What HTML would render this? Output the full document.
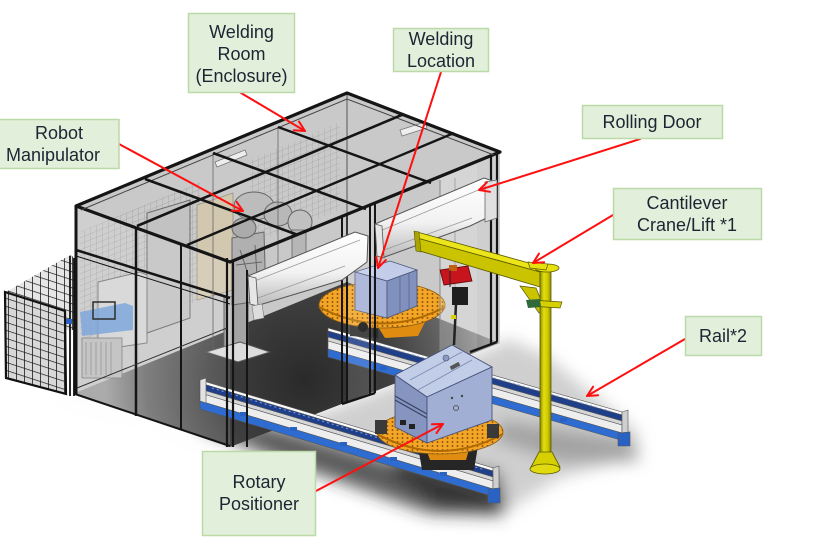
<!DOCTYPE html>
<html><head><meta charset="utf-8">
<style>
html,body{margin:0;padding:0;background:#fff;}
svg{display:block;}
.lbl{font-family:"Liberation Sans","Noto Sans CJK SC",sans-serif;font-size:18px;fill:#1c2533;text-anchor:middle;}
.box{fill:#e2efda;stroke:#bcd9a8;stroke-width:1.5;}
.arr{stroke:#ff1010;stroke-width:2;fill:none;stroke-linecap:round;stroke-linejoin:round;}
.fr{stroke:#151515;fill:none;}
</style></head><body>
<svg width="815" height="559" viewBox="0 0 815 559" xmlns="http://www.w3.org/2000/svg">
<defs>
 <filter id="b8" x="-20%" y="-20%" width="140%" height="140%"><feGaussianBlur stdDeviation="8"/></filter>
 <filter id="b5" x="-20%" y="-20%" width="140%" height="140%"><feGaussianBlur stdDeviation="5"/></filter>
 <radialGradient id="floorG" cx="305" cy="380" r="200" gradientUnits="userSpaceOnUse">
   <stop offset="0" stop-color="#2a2a2a"/><stop offset="0.45" stop-color="#404040"/><stop offset="0.8" stop-color="#6e6e6e"/><stop offset="1" stop-color="#a0a0a0"/>
 </radialGradient>
 <linearGradient id="doorG" x1="0" y1="0" x2="0" y2="1">
   <stop offset="0" stop-color="#ffffff"/><stop offset="0.55" stop-color="#f2f2f2"/><stop offset="1" stop-color="#b9b9b9"/>
 </linearGradient>
 <linearGradient id="colG" x1="0" y1="0" x2="1" y2="0">
   <stop offset="0" stop-color="#8e8c00"/><stop offset="0.35" stop-color="#e2de10"/><stop offset="0.7" stop-color="#cfca00"/><stop offset="1" stop-color="#8a8700"/>
 </linearGradient>
 <pattern id="dots" width="5" height="4" patternUnits="userSpaceOnUse"><rect width="5" height="4" fill="#f4a526"/><circle cx="2.5" cy="2" r="0.95" fill="#8a5608"/></pattern>
 <pattern id="gate" width="8" height="8" patternUnits="userSpaceOnUse" patternTransform="skewY(18)"><path d="M0 0H8M0 0V8" stroke="#1e1e1e" stroke-width="1.6" fill="none"/></pattern>
 <pattern id="meshL" width="6" height="6" patternUnits="userSpaceOnUse" patternTransform="skewY(-22)"><path d="M0 0H6M0 0V6" stroke="#8a8a8a" stroke-width="0.7" fill="none"/></pattern>
</defs>

<rect width="815" height="559" fill="#fff"/>

<!-- ground shadows -->
<g filter="url(#b8)">
  <polygon points="62,392 250,452 330,470 420,503 505,512 560,478 640,455 636,430 545,355 505,338 500,345 230,447 75,395" fill="#a8a8a8" opacity="0.55"/>
  <polygon points="200,405 495,492 505,516 430,514 300,468 200,428" fill="#2a2a2a" opacity="0.7"/>
  <polygon points="400,455 500,472 505,508 440,506 390,472" fill="#1a1a1a" opacity="0.6"/>
  <polygon points="500,420 630,440 640,462 560,462 495,440" fill="#777" opacity="0.5"/>
</g>

<!-- enclosure silhouette -->
<polygon points="76,206 347,93 500,152 500,343 230,447 75,395" fill="#c9c9c9"/>
<!-- back wall mesh -->
<polygon points="80,232 200,182 200,300 80,345" fill="url(#meshL)" opacity="0.7"/>
<polygon points="250,160 340,122 340,210 250,245" fill="url(#meshL)" opacity="0.6"/>
<!-- floor -->
<polygon points="75,393 230,447 500,343 347,282" fill="url(#floorG)"/>

<!-- interior items -->
<polygon points="147,213 190,200 190,318 147,333" fill="#c2c2c2" stroke="#6a6a6a" stroke-width="1"/>
<polygon points="98,282 140,272 147,275 147,343 98,350" fill="#d4d4d4" stroke="#777" stroke-width="1"/>
<polygon points="80,312 125,303 133,306 133,330 82,336" fill="#6f9bd6" opacity="0.85"/>
<rect x="93" y="302" width="22" height="17" fill="none" stroke="#111" stroke-width="1.5"/>
<rect x="82" y="338" width="40" height="40" fill="#bdbdbd" stroke="#777" stroke-width="0.8"/>
<path d="M86 342V375M91 342V375M96 342V375M101 342V375M106 342V375M111 342V375" stroke="#8a8a8a" stroke-width="0.8"/>
<polygon points="197,205 233,193 233,290 197,300" fill="#d2c8b0" stroke="#9a9080" stroke-width="0.8"/>
<!-- robots -->
<rect x="224" y="297" width="24" height="55" fill="#a4a4a4" stroke="#555" stroke-width="1"/>
<rect x="226" y="297" width="7" height="55" fill="#c0c0c0"/>
<polygon points="206,352 240,342 270,352 238,362" fill="#dcdcdc" stroke="#555" stroke-width="1"/>
<polygon points="232,238 264,232 266,300 232,305" fill="#b0b0b0" stroke="#666" stroke-width="1"/>
<ellipse cx="254" cy="206" rx="20" ry="14" fill="#bcbcbc" stroke="#666" stroke-width="1"/>
<ellipse cx="278" cy="214" rx="14" ry="12" fill="#b8b8b8" stroke="#666" stroke-width="1"/>
<ellipse cx="244" cy="228" rx="12" ry="10" fill="#ababab" stroke="#666" stroke-width="1"/>
<ellipse cx="300" cy="222" rx="12" ry="12" fill="#c0c0c0" stroke="#666" stroke-width="1"/>
<rect x="292" y="230" width="14" height="30" fill="#b6b6b6" stroke="#666" stroke-width="0.8"/>
<path d="M240 250L250 280M255 245L258 290M236 265L262 262" stroke="#666" stroke-width="1" fill="none"/>
<polygon points="215,162 245,150 247,155 217,167" fill="#eee" stroke="#777" stroke-width="0.8"/>
<polygon points="400,130 425,122 427,128 402,136" fill="#eee" stroke="#777" stroke-width="0.8"/>

<!-- rail 1 (back) -->
<g stroke="#555" stroke-width="0.6">
<polygon points="328,328 622,412 622,415 328,331" fill="#fafafa"/>
<polygon points="328,331 622,415 622,421 328,337" fill="#1f3f8a"/>
<polygon points="328,337 622,421 622,425 328,341" fill="#d6d6d6"/>
<polygon points="328,341 622,425 622,433 328,349" fill="#eeeeee"/>
<polygon points="328,349 622,433 624,441 328,357" fill="#2e6cd2"/>
<polygon points="622,412 628,410 628,436 622,433" fill="#cfcfcf"/>
<polygon points="618,433 630,432 630,446 618,446" fill="#2a62c4"/>
</g>
<path d="M340 334L610 411" stroke="#7fa3e6" stroke-width="1" stroke-dasharray="2,3"/>

<!-- positioner 1 -->
<polygon points="350,318 378,320 378,338 350,336" fill="#2b2b2b"/>
<polygon points="375,322 425,322 418,336 385,338" fill="#e08c10"/>
<ellipse cx="382" cy="305" rx="63" ry="23" fill="url(#dots)" stroke="#8a5a10" stroke-width="0.8"/>
<path d="M319 307Q382 340 445 307" stroke="#b06a00" stroke-width="2" fill="none"/>
<circle cx="363" cy="327" r="5" fill="#111"/>
<polygon points="355,272 390,261 417,270 387,281" fill="#c3cdea" stroke="#4a5578" stroke-width="0.8"/>
<polygon points="355,272 387,281 387,318 355,310" fill="#a4b1d6" stroke="#4a5578" stroke-width="0.8"/>
<polygon points="387,281 417,270 417,306 387,318" fill="#8191bd" stroke="#4a5578" stroke-width="0.8"/>
<path d="M400 276V313M409 273V309" stroke="#5a6690" stroke-width="0.8"/>

<!-- front glass overlay -->
<polygon points="76,206 230,260 230,447 75,395" fill="#ffffff" opacity="0.12"/>
<polygon points="347,213 373,203 373,393 347,403" fill="#ffffff" opacity="0.12"/>
<polygon points="477,160 500,152 500,343 477,352" fill="#ffffff" opacity="0.12"/>
<polygon points="440,175 477,160 477,350 440,365" fill="#ffffff" opacity="0.22"/>
<path d="M440 180V362" stroke="#888" stroke-width="1"/>
<path d="M455 178V355" stroke="#999" stroke-width="0.8"/>

<!-- rail 2 (front) -->
<g stroke="#555" stroke-width="0.6">
<polygon points="200,380 493,468 493,471 200,383" fill="#fafafa"/>
<polygon points="200,383 493,471 493,477 200,389" fill="#1f3f8a"/>
<polygon points="200,389 493,477 493,481 200,393" fill="#d6d6d6"/>
<polygon points="200,393 493,481 493,489 200,401" fill="#eeeeee"/>
<polygon points="200,401 493,489 495,497 200,409" fill="#2e6cd2"/>
<polygon points="200,380 206,378 206,403 200,401" fill="#e2e2e2"/>
<polygon points="493,468 499,466 499,492 493,489" fill="#cfcfcf"/>
<polygon points="488,489 500,488 500,503 488,503" fill="#2a62c4"/>
</g>
<path d="M212 388L485 470" stroke="#7fa3e6" stroke-width="1" stroke-dasharray="2,3"/>
<g fill="#2a62c4">
<rect x="240" y="412" width="7" height="4"/><rect x="290" y="427" width="7" height="4"/><rect x="340" y="442" width="7" height="4"/><rect x="390" y="457" width="7" height="4"/><rect x="440" y="472" width="7" height="4"/>
<rect x="380" y="366" width="7" height="4"/><rect x="430" y="380" width="7" height="4"/><rect x="560" y="418" width="7" height="4"/>
</g>

<!-- left fence -->
<polygon points="6,292 70,255 75,258 75,330 66,330 66,312 6,292" fill="#e6e6e6"/>
<polygon points="6,292 70,255 75,258 75,330 66,330 66,312 6,292" fill="url(#gate)"/>
<polygon points="5,292 65,311 66,394 6,378" fill="#d8d8d8"/>
<polygon points="5,292 65,311 66,394 6,378" fill="url(#gate)"/>
<polygon points="5,292 65,311 66,394 6,378" fill="none" stroke="#111" stroke-width="2.2"/>
<path d="M70 256V396M74 258V396" stroke="#111" stroke-width="1.8"/>
<rect x="66" y="319" width="6" height="5" fill="#2a62c4"/>

<!-- enclosure frame: posts -->
<g class="fr">
<path d="M76 206V395" stroke-width="3"/>
<path d="M136 227V416" stroke-width="2.5"/>
<path d="M181 243V429" stroke-width="2"/>
<path d="M227 258V447M233 260V447" stroke-width="2.2"/>
<path d="M247 270V447" stroke-width="2"/>
<path d="M342 215V404M347 213V402" stroke-width="2"/>
<path d="M370 205V394M375 203V393" stroke-width="2"/>
<path d="M491 155V344M497 153V342" stroke-width="2.2"/>
<path d="M76 250L230 298" stroke-width="2.5"/>
<path d="M76 256L230 304" stroke-width="1"/>
<path d="M75 394L230 446" stroke-width="2"/>
<path d="M342 404L375 393" stroke-width="2.5"/>
<path d="M470 352L497 342" stroke-width="2.5"/>
<path d="M77 388L227 328" stroke="#333" stroke-width="1"/>
<path d="M347 93V282" stroke="#555" stroke-width="1"/>
<path d="M213 153V350" stroke="#666" stroke-width="0.8"/>
<path d="M278 127V300" stroke="#666" stroke-width="0.8"/>
</g>

<!-- rolling door housings -->
<polygon points="248,276 355,232 368,236 367,262 342,280 256,306" fill="url(#doorG)" stroke="#555" stroke-width="1"/>
<path d="M252 282L360 240M258 298L345 266" stroke="#9a9a9a" stroke-width="0.8"/>
<polygon points="248,276 256,278 258,306 250,304" fill="#e6e6e6" stroke="#555" stroke-width="0.8"/>
<polygon points="252,306 262,304 264,318 254,320" fill="#ddd" stroke="#777" stroke-width="0.6"/>
<polygon points="375,224 484,178 496,182 495,214 470,226 382,258" fill="url(#doorG)" stroke="#555" stroke-width="1"/>
<path d="M380 231L488 186M384 250L472 218" stroke="#9a9a9a" stroke-width="0.8"/>
<polygon points="375,224 382,226 384,258 377,256" fill="#e6e6e6" stroke="#555" stroke-width="0.8"/>
<polygon points="485,182 497,180 497,218 485,222" fill="#e0e0e0" stroke="#666" stroke-width="0.8"/>

<!-- roof frame -->
<g class="fr">
<polygon points="76,206 347,93 500,152 230,262" stroke-width="3.2" stroke-linejoin="round"/>
<path d="M81 210L347 99L494 155" stroke="#444" stroke-width="1"/>
<path d="M145,179 L298,235" stroke-width="2.6"/>
<path d="M213,153 L366,209" stroke-width="2.6"/>
<path d="M278,127 L431,183" stroke-width="2.4"/>
<path d="M137,226 L404,114" stroke-width="2.6"/>
<path d="M187,245 L454,133" stroke-width="2.4"/>
</g>

<!-- positioner 2 -->
<polygon points="418,446 478,446 474,470 422,470" fill="#262626"/>
<polygon points="425,446 470,446 466,460 430,460" fill="#e08c10"/>
<ellipse cx="440" cy="432" rx="63" ry="22" fill="url(#dots)" stroke="#8a5a10" stroke-width="0.8"/>
<path d="M377 434Q440 468 503 434" stroke="#b06a00" stroke-width="2" fill="none"/>
<rect x="375" y="420" width="12" height="14" fill="#3a3a3a"/>
<rect x="487" y="424" width="12" height="14" fill="#3a3a3a"/>
<polygon points="395,375 452,345 492,367 427,397" fill="#c2cde8" stroke="#46527a" stroke-width="0.9"/>
<path d="M410 380L462 352M418 390L472 360" stroke="#7f8cb4" stroke-width="0.9"/>
<circle cx="446" cy="358" r="3" fill="#8e9ac0" stroke="#46527a" stroke-width="0.6"/>
<rect x="450" y="364" width="10" height="4" fill="#555" transform="rotate(-28 455 366)"/>
<polygon points="395,375 427,397 427,443 395,427" fill="#8595c0" stroke="#46527a" stroke-width="0.9"/>
<path d="M395 396L427 414M395 400L427 418" stroke="#3a4060" stroke-width="1.2"/>
<rect x="400" y="420" width="6" height="5" fill="#222"/><rect x="409" y="424" width="6" height="5" fill="#222"/>
<polygon points="427,397 492,367 492,420 427,443" fill="#a2afd5" stroke="#46527a" stroke-width="0.9"/>
<circle cx="456" cy="408" r="2.5" fill="none" stroke="#444" stroke-width="0.8"/>
<circle cx="452" cy="398" r="1.2" fill="#444"/><circle cx="462" cy="396" r="1.2" fill="#444"/>

<!-- hoist -->
<path d="M456 304L454 345" stroke="#222" stroke-width="2.5"/>
<rect x="451" y="315" width="5" height="4" fill="#d8d000"/>
<polygon points="440,270 468,266 472,281 444,285" fill="#c8141c" stroke="#5a0a0a" stroke-width="0.8"/>
<rect x="449" y="265" width="8" height="6" fill="#c06010"/>
<rect x="452" y="287" width="16" height="18" fill="#1e1e1e"/>
<path d="M450 270V287" stroke="#222" stroke-width="1"/>

<!-- crane -->
<polygon points="417,232 540,266 540,272 417,238" fill="#ebe51a" stroke="#5a5800" stroke-width="0.8"/>
<polygon points="417,238 540,272 540,287 420,251" fill="#c9c300" stroke="#5a5800" stroke-width="0.8"/>
<polygon points="414,231 419,232 421,252 416,251" fill="#a9a400" stroke="#5a5800" stroke-width="0.6"/>
<polygon points="520,286 536,288 546,312 539,313" fill="#c9c300" stroke="#5a5800" stroke-width="0.7"/>
<rect x="540" y="268" width="11" height="198" fill="url(#colG)" stroke="#5a5800" stroke-width="0.8"/>
<ellipse cx="547" cy="268" rx="12" ry="4" fill="#e6e010" stroke="#5a5800" stroke-width="0.8"/>
<polygon points="528,262 548,264 546,270 530,268" fill="#e6e010" stroke="#5a5800" stroke-width="0.7"/>
<polygon points="530,300 562,302 560,308 530,306" fill="#d6d000" stroke="#5a5800" stroke-width="0.7"/>
<polygon points="526,300 540,299 541,307 528,308" fill="#2f6b3a"/>
<polygon points="539,452 552,452 560,467 531,467" fill="#d6d000" stroke="#5a5800" stroke-width="0.8"/>
<ellipse cx="545" cy="469" rx="15" ry="5" fill="#e0da10" stroke="#5a5800" stroke-width="0.8"/>

<!-- arrows -->
<g class="arr">
<path d="M241 93L305 131"/><path d="M293.8 130.2L305 131L299 121.6"/>
<path d="M119 144L243 211"/><path d="M231.8 210.6L243 211L236.6 201.8"/>
<path d="M441 72L378 268"/><path d="M376.3 257L378 268L385.9 260"/>
<path d="M640 139L479 190"/><path d="M487 182.2L479 190L490 191.8"/>
<path d="M613 215L533 263"/><path d="M539 253.6L533 263L544.2 262.2"/>
<path d="M685 339L587 396"/><path d="M593.1 386.7L587 396L598.1 395.3"/>
<path d="M316 491L443 424"/><path d="M436.5 433.1L443 424L431.9 424.3"/>
</g>

<!-- labels -->
<rect class="box" x="188.5" y="13.5" width="106" height="79"/>
<text class="lbl" x="241.5" y="38">Welding</text>
<text class="lbl" x="241.5" y="60">Room</text>
<text class="lbl" x="241.5" y="82">(Enclosure)</text>

<rect class="box" x="-1" y="119.5" width="120" height="49"/>
<text class="lbl" x="59" y="139">Robot</text>
<text class="lbl" x="53" y="161">Manipulator</text>

<rect class="box" x="393.5" y="28.5" width="95" height="43"/>
<text class="lbl" x="441" y="45">Welding</text>
<text class="lbl" x="441" y="67">Location</text>

<rect class="box" x="582.5" y="105.5" width="140" height="33"/>
<text class="lbl" x="652" y="128">Rolling Door</text>

<rect class="box" x="613.5" y="188.5" width="148" height="51"/>
<text class="lbl" x="687" y="209">Cantilever</text>
<text class="lbl" x="687" y="231">Crane/Lift *1</text>

<rect class="box" x="685.5" y="316.5" width="76" height="39"/>
<text class="lbl" x="723" y="342">Rail*2</text>

<rect class="box" x="202.5" y="451.5" width="113" height="84"/>
<text class="lbl" x="259" y="488">Rotary</text>
<text class="lbl" x="259" y="510">Positioner</text>
</svg>
</body></html>
